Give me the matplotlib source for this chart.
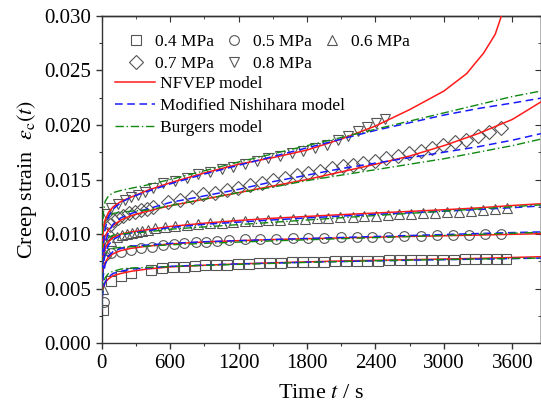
import matplotlib
matplotlib.use('Agg')
import matplotlib.pyplot as plt
from matplotlib.ticker import MultipleLocator

plt.rcParams['font.family'] = ['Liberation Serif', 'DejaVu Serif']
plt.rcParams['mathtext.fontset'] = 'stix'

t_04 = [9, 84, 167, 254, 435, 530, 625, 720, 814, 909, 1004, 1098, 1193, 1288, 1383,
        1477, 1572, 1667, 1761, 1856, 1951, 2046, 2140, 2235, 2330, 2424, 2519, 2614,
        2708, 2803, 2898, 2993, 3087, 3182, 3277, 3371, 3466, 3545]
e_04 = [0.00305, 0.00574, 0.0062, 0.0064, 0.0067, 0.0069, 0.0070, 0.00703, 0.0071,
        0.00715, 0.0072, 0.00721, 0.00727, 0.0073, 0.00731, 0.00736, 0.00737, 0.00741,
        0.00742, 0.00746, 0.00747, 0.0075, 0.00752, 0.00752, 0.00756, 0.00757, 0.0076,
        0.0076, 0.00763, 0.00763, 0.00766, 0.00767, 0.00767, 0.0077, 0.0077, 0.00772,
        0.00772, 0.00774]

t_05 = [20, 84, 167, 254, 342, 438, 540, 634, 724, 824, 914, 1010, 1116, 1256, 1388,
        1528, 1674, 1812, 1949, 2095, 2236, 2372, 2513, 2653, 2800, 2942, 3083, 3220,
        3361, 3501]
e_05 = [0.0038, 0.00825, 0.0084, 0.00855, 0.0087, 0.0088, 0.0090, 0.0091, 0.00917,
        0.00926, 0.0093, 0.0094, 0.00947, 0.00953, 0.00953, 0.00956, 0.0096, 0.00962,
        0.00965, 0.0097, 0.0097, 0.0097, 0.00977, 0.0098, 0.00983, 0.0099, 0.00993,
        0.00995, 0.00999, 0.01002]

t_06 = [10, 40, 84, 130, 175, 220, 265, 310, 355, 410, 467, 555, 643, 745, 847, 950,
        1052, 1154, 1256, 1359, 1461, 1563, 1680, 1782, 1885, 1987, 2089, 2200, 2300,
        2405, 2510, 2610, 2712, 2815, 2920, 3024, 3130, 3235, 3340, 3445, 3551]
e_06 = [0.0050, 0.0085, 0.0094, 0.0097, 0.0099, 0.0100, 0.0101, 0.0102, 0.0103, 0.0104,
        0.01054, 0.01063, 0.01075, 0.01084, 0.01093, 0.0110, 0.01106, 0.01112, 0.01118,
        0.01124, 0.0113, 0.01133, 0.01137, 0.01142, 0.01146, 0.01151, 0.01155, 0.0116,
        0.01165, 0.0117, 0.01175, 0.0118, 0.01185, 0.0119, 0.01195, 0.012, 0.01207,
        0.01213, 0.0122, 0.01228, 0.01236]

t_07 = [20, 45, 70, 99, 140, 190, 240, 290, 345, 400, 453, 584, 686, 789, 891, 993,
        1096, 1198, 1300, 1403, 1505, 1607, 1710, 1812, 1914, 2016, 2118, 2200, 2294,
        2396, 2493, 2595, 2697, 2797, 2898, 2995, 3097, 3194, 3296, 3396, 3498]
e_07 = [0.0080, 0.0100, 0.0108, 0.0113, 0.0115, 0.0117, 0.0119, 0.0120, 0.0122, 0.0123,
        0.0125, 0.0129, 0.01313, 0.01338, 0.01366, 0.0138, 0.01405, 0.01426, 0.01451,
        0.01472, 0.01497, 0.01518, 0.01543, 0.01558, 0.01579, 0.01604, 0.01625, 0.01634,
        0.01655, 0.01674, 0.01696, 0.01717, 0.01741, 0.01763, 0.01787, 0.01818, 0.01839,
        0.01863, 0.01894, 0.01934, 0.01971]

t_08 = [20, 40, 84, 143, 201, 260, 318, 377, 450, 540, 643, 745, 847, 950, 1052, 1154,
        1256, 1359, 1461, 1563, 1666, 1768, 1870, 1973, 2070, 2160, 2245, 2325, 2405, 2484]
e_08 = [0.0095, 0.0118, 0.0124, 0.0128, 0.0131, 0.0134, 0.0136, 0.0139, 0.0142, 0.01472,
        0.0149, 0.01518, 0.01549, 0.01573, 0.01595, 0.01619, 0.01643, 0.01665, 0.01696,
        0.01717, 0.01741, 0.01765, 0.01787, 0.0182, 0.0186, 0.0190, 0.0194, 0.0198,
        0.0202, 0.0205]

# ---- model curves ----
t_fit = [0, 5, 15, 30, 60, 100, 170, 260, 400, 600, 900, 1200, 1500, 1800, 2100, 2400,
         2700, 3000, 3300, 3600, 3850]

nfvep_04 = [0.0030, 0.0046, 0.0052, 0.0056, 0.0059, 0.0062, 0.0064, 0.0066, 0.0068, 0.0070,
            0.00715, 0.00727, 0.00737, 0.00746, 0.00754, 0.0076, 0.00766, 0.00772, 0.00778,
            0.00786, 0.00793]
nish_04 = [0.0030, 0.0042, 0.0050, 0.0056, 0.0061, 0.0064, 0.0066, 0.0068, 0.0069, 0.00705,
           0.00717, 0.00727, 0.00735, 0.00743, 0.00749, 0.00755, 0.00761, 0.00766, 0.00771,
           0.00776, 0.0078]
burg_04 = [0.0030, 0.0045, 0.0055, 0.0060, 0.0064, 0.0066, 0.0068, 0.0069, 0.00695, 0.00703,
           0.00713, 0.00723, 0.00732, 0.00741, 0.00749, 0.00756, 0.00762, 0.00767, 0.00772,
           0.00777, 0.0078]

nfvep_05 = [0.0035, 0.0058, 0.0068, 0.0074, 0.0079, 0.0082, 0.0085, 0.0087, 0.0089, 0.0091,
            0.00928, 0.0094, 0.0095, 0.00958, 0.00965, 0.00972, 0.00979, 0.00985, 0.00991,
            0.00998, 0.01004]
nish_05 = [0.0035, 0.0050, 0.0063, 0.0072, 0.0080, 0.0084, 0.0087, 0.0089, 0.0090, 0.00915,
           0.0093, 0.0094, 0.0095, 0.0096, 0.00969, 0.00978, 0.00987, 0.00996, 0.01005,
           0.01014, 0.0102]
burg_05 = [0.0035, 0.0058, 0.0074, 0.0082, 0.0086, 0.0087, 0.0088, 0.00885, 0.0089, 0.00902,
           0.00915, 0.00927, 0.00938, 0.00948, 0.00958, 0.00968, 0.00978, 0.00988, 0.00998,
           0.01008, 0.01016]

nfvep_06 = [0.0042, 0.0068, 0.0080, 0.0087, 0.0093, 0.0097, 0.0100, 0.0102, 0.0104, 0.0107,
            0.0110, 0.01125, 0.01145, 0.01162, 0.01178, 0.01193, 0.01208, 0.01223, 0.0124,
            0.01262, 0.01278]
nish_06 = [0.0042, 0.0058, 0.0072, 0.0082, 0.0090, 0.0095, 0.0099, 0.0101, 0.0103, 0.0106,
           0.0109, 0.0111, 0.0113, 0.01148, 0.01165, 0.0118, 0.01195, 0.0121, 0.01225,
           0.01242, 0.01258]
burg_06 = [0.0042, 0.0070, 0.0086, 0.0093, 0.0097, 0.0099, 0.0100, 0.0101, 0.0102, 0.01045,
           0.01066, 0.01087, 0.01108, 0.01129, 0.0115, 0.0117, 0.0119, 0.0121, 0.0123,
           0.0125, 0.01268]

nfvep_07 = [0.0050, 0.0078, 0.0090, 0.0098, 0.0104, 0.0108, 0.0113, 0.0117, 0.0121, 0.0126,
            0.0132, 0.0138, 0.0144, 0.0150, 0.0157, 0.0164, 0.01715, 0.0181, 0.0192,
            0.0205, 0.0221]
nish_07 = [0.0050, 0.0065, 0.0080, 0.0092, 0.0102, 0.0109, 0.0115, 0.0119, 0.0123, 0.0129,
           0.0135, 0.0141, 0.0148, 0.0154, 0.0160, 0.0165, 0.0170, 0.0175, 0.0180, 0.0186,
           0.0192]
burg_07 = [0.0050, 0.0085, 0.0103, 0.0112, 0.0116, 0.0119, 0.0120, 0.0121, 0.0122, 0.0126,
           0.0132, 0.0138, 0.0143, 0.0149, 0.0154, 0.0159, 0.0164, 0.0169, 0.0175, 0.0181,
           0.0187]

t_fit_08 = [0, 5, 15, 30, 60, 100, 170, 260, 400, 600, 900, 1200, 1500, 1800, 2100, 2400,
            2700, 3000, 3200, 3350, 3450, 3505, 3560]
nfvep_08 = [0.0058, 0.0090, 0.0105, 0.0113, 0.0120, 0.0125, 0.0130, 0.0134, 0.0140, 0.0147,
            0.0156, 0.0164, 0.0170, 0.0177, 0.0187, 0.0199, 0.0214, 0.0231, 0.0247, 0.0266,
            0.0283, 0.0300, 0.0318]
nish_08 = [0.0058, 0.0075, 0.0092, 0.0105, 0.0116, 0.0123, 0.0129, 0.0134, 0.0139, 0.0146,
           0.0155, 0.0163, 0.0171, 0.0179, 0.0187, 0.0195, 0.0202, 0.0209, 0.0215, 0.0220,
           0.02245]
burg_08 = [0.0058, 0.0100, 0.0120, 0.0130, 0.0135, 0.0138, 0.0140, 0.0142, 0.0145, 0.0150,
           0.0158, 0.0166, 0.01735, 0.0181, 0.01885, 0.0196, 0.02035, 0.0211, 0.02185,
           0.0226, 0.0231]

stress_labels = ['0.4 MPa', '0.5 MPa', '0.6 MPa', '0.7 MPa', '0.8 MPa']
markers = ['s', 'o', '^', 'D', 'v']
marker_sizes = [6.5, 7.0, 7.5, 6.8, 7.5]

exp_data = [(t_04, e_04), (t_05, e_05), (t_06, e_06), (t_07, e_07), (t_08, e_08)]
fits = [
    (t_fit, nfvep_04, nish_04, burg_04),
    (t_fit, nfvep_05, nish_05, burg_05),
    (t_fit, nfvep_06, nish_06, burg_06),
    (t_fit, nfvep_07, nish_07, burg_07),
    (t_fit_08, nfvep_08, nish_08, burg_08),
]

fig = plt.figure(figsize=(5.41, 4.12), dpi=100)
ax = fig.add_axes([0.188, 0.1667, 0.8117, 0.7952])

mk_handles = []
for (tt, ee), lab, mk, ms in zip(exp_data, stress_labels, markers, marker_sizes):
    h, = ax.plot(tt, ee, linestyle='none', marker=mk, markersize=ms,
                 markerfacecolor='none', markeredgecolor='#555555',
                 markeredgewidth=0.8, label=lab)
    mk_handles.append(h)

ln_handles = []
for i, (tf, red, blue, green) in enumerate(fits):
    h1, = ax.plot(tf, red, color='#ff1a1a', lw=1.1, zorder=4)
    h2, = ax.plot(t_fit, blue, color='#1a1aff', lw=1.1, ls=(0, (5, 3)), zorder=4)
    h3, = ax.plot(t_fit, green, color='#118811', lw=1.0, ls=(0, (6, 2, 1, 2)), zorder=4)
    if i == 0:
        ln_handles = [h1, h2, h3]

ax.set_xlim(0, 3850)
ax.set_ylim(0, 0.030)
ax.xaxis.set_major_locator(MultipleLocator(600))
ax.xaxis.set_minor_locator(MultipleLocator(300))
ax.yaxis.set_major_locator(MultipleLocator(0.005))
ax.yaxis.set_minor_locator(MultipleLocator(0.0025))
ax.yaxis.set_major_formatter(plt.FormatStrFormatter('%.3f'))
ax.tick_params(which='both', direction='out', labelsize=15, colors='#333333',
               labelcolor='black')
ax.tick_params(which='major', length=4, width=1)
ax.tick_params(which='minor', length=2.5, width=0.8)

# inward ticks on top and right
sec_x = ax.secondary_xaxis('top')
sec_x.xaxis.set_major_locator(MultipleLocator(600))
sec_x.xaxis.set_minor_locator(MultipleLocator(300))
sec_x.tick_params(which='both', direction='in', labeltop=False, colors='#333333')
sec_x.tick_params(which='major', length=4)
sec_x.tick_params(which='minor', length=2.5)
sec_y = ax.secondary_yaxis('right')
sec_y.yaxis.set_major_locator(MultipleLocator(0.005))
sec_y.yaxis.set_minor_locator(MultipleLocator(0.0025))
sec_y.tick_params(which='both', direction='in', labelright=False, colors='#333333')
sec_y.tick_params(which='major', length=4)
sec_y.tick_params(which='minor', length=2.5)
for sp in list(ax.spines.values()) + [sec_x.spines['top'], sec_y.spines['right']]:
    sp.set_color('#333333')
    sp.set_linewidth(1.0)

ax.set_xlabel(r'Time $t$ / s', fontsize=16, labelpad=8)
ax.set_ylabel(r'Creep strain  $\varepsilon_{\rm c}(t)$', fontsize=16, labelpad=4)

order = [0, 3, 1, 4, 2]
leg1 = ax.legend([mk_handles[i] for i in order], [stress_labels[i] for i in order],
                 ncol=3, loc='upper left', bbox_to_anchor=(0.046, 0.945), frameon=False,
                 fontsize=12.5, handlelength=1.6, handletextpad=0.3, columnspacing=0.35,
                 labelspacing=0.32, borderpad=0, borderaxespad=0)
ax.add_artist(leg1)
ax.legend(ln_handles, ['NFVEP model', 'Modified Nishihara model', 'Burgers model'],
          loc='upper left', bbox_to_anchor=(0.03, 0.815), frameon=False, fontsize=12.5,
          handlelength=2.3, handletextpad=0.3, labelspacing=0.32, borderpad=0,
          borderaxespad=0)

fig.savefig('out.png', dpi=100)
